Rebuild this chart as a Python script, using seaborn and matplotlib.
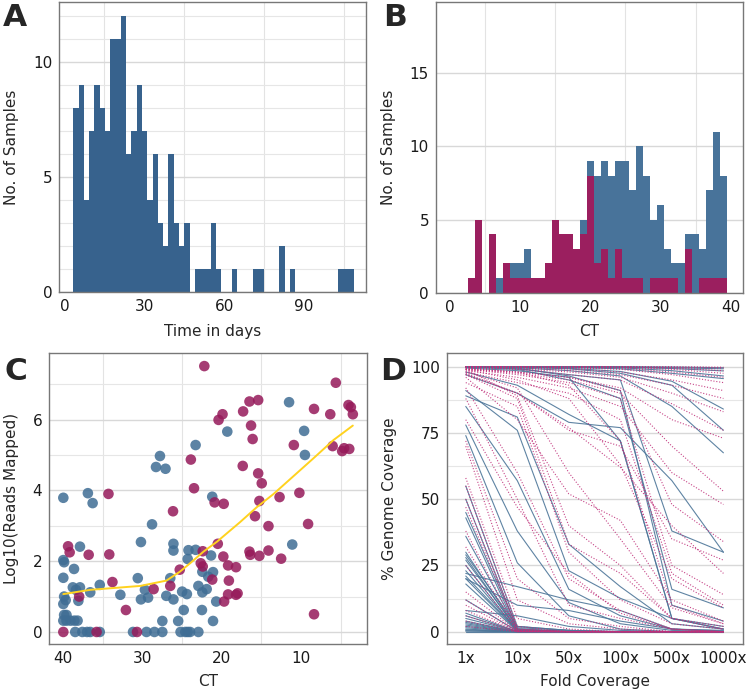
import numpy as np
import pandas as pd
import matplotlib
matplotlib.use("Agg")
import matplotlib.pyplot as plt
import seaborn as sns

# ---------------- data ----------------
# A: days until sequencing, counts per ~2 day bin
days_bin_start = 3.3
days_bin_width = 1.987
days_counts = [8, 9, 4, 7, 9, 8, 7, 11, 11, 12, 6, 7, 9, 7, 4, 6, 3, 2, 6, 3, 2, 3,
               0, 1, 1, 1, 3, 1, 0, 0, 1, 0, 0, 0, 1, 1, 0, 0, 0, 2, 0, 1, 0,
               0, 0, 0, 0, 0, 0, 0, 1, 1, 1]

# B: CT histogram, two groups (stacked)
ct_bin_start = 2.6
ct_bin_width = 0.995
ct_counts_blue = [0, 0, 0, 0, 1, 0, 1, 1, 2, 0, 0, 0, 0, 0, 0, 0, 1, 1, 6, 6, 7, 6, 8, 6,
                  9, 8, 4, 5, 2, 1, 2, 1, 4, 2, 6, 10, 7]
ct_counts_mag = [1, 5, 0, 4, 0, 2, 1, 1, 1, 1, 1, 2, 5, 4, 4, 3, 4, 8, 2, 3, 1, 3, 1, 1,
                 1, 0, 1, 1, 1, 1, 0, 3, 0, 1, 1, 1, 1]

# C: CT vs log10 reads mapped
c_ct_blue = [11.5, 19.3, 9.6, 9.5, 23.3, 27.8, 28.3, 27.1, 40.0, 36.9, 36.3, 21.2, 28.8,
             30.2, 26.1, 26.1, 37.9, 40.0, 39.9, 24.2, 23.3, 21.35, 24.3, 11.1, 22.45, 21.1,
             21.7, 26.5, 30.6, 40.0, 38.65, 35.4, 29.7, 38.8, 37.9, 38.4, 36.6, 39.9, 39.7,
             40.0, 38.1, 32.8, 30.2, 29.3, 27.0, 26.1, 25.0, 24.4, 22.95, 22.45, 21.9, 20.7,
             27.5, 24.8, 22.5, 25.5, 21.1, 39.9, 39.6, 40.0, 39.6, 39.1, 38.6, 38.2,
             38.5, 37.6, 37.0, 36.6, 35.4, 31.2, 29.5, 28.5, 27.5, 25.2, 24.6, 24.3, 24.0, 22.95]
c_log_blue = [6.49, 5.66, 5.68, 5.0, 5.28, 4.97, 4.66, 4.61, 3.79, 3.92, 3.64, 3.82, 3.04,
              2.54, 2.49, 2.30, 2.41, 2.03, 1.97, 2.31, 2.32, 2.16, 2.06, 2.47, 1.70, 1.69,
              1.56, 1.52, 1.52, 1.53, 1.78, 1.33, 1.19, 1.26, 1.26, 1.19, 1.12, 1.00, 0.90,
              0.79, 0.88, 1.05, 0.92, 0.97, 1.02, 0.92, 1.14, 1.07, 1.30, 1.12, 1.21, 0.86,
              0.31, 0.62, 0.62, 0.31, 0.31, 0.48, 0.48, 0.32, 0.32, 0.32, 0.32, 0.32,
              0, 0, 0, 0, 0, 0, 0, 0, 0, 0, 0, 0, 0, 0]
c_ct_mag = [22.2, 5.6, 16.5, 15.4, 8.35, 4.0, 3.7, 3.45, 6.3, 17.3, 19.9, 20.4, 16.3, 16.1,
            10.9, 6.0, 4.55, 3.9, 4.8, 23.9, 17.35, 15.4, 14.95, 23.5, 34.3, 20.9, 19.75,
            15.25, 12.7, 10.2, 26.15, 15.8, 14.1, 9.1, 20.5, 39.4, 39.2, 36.8, 34.2, 22.4,
            19.8, 16.5, 16.4, 15.25, 14.1, 12.5, 22.65, 22.4, 19.2, 18.2, 19.1, 21.2, 25.3,
            26.5, 33.8, 28.6, 38.0, 19.7, 19.2, 18.2, 18.0, 32.1, 8.35, 40.0, 35.8, 30.7]
c_log_mag = [7.51, 7.04, 6.51, 6.55, 6.30, 6.41, 6.35, 6.15, 6.15, 6.23, 6.15, 5.99, 5.83,
             5.45, 5.28, 5.25, 5.19, 5.17, 5.11, 4.87, 4.69, 4.48, 4.20, 4.06, 3.90, 3.66,
             3.62, 3.70, 3.81, 3.93, 3.41, 3.27, 2.99, 3.05, 2.49, 2.42, 2.25, 2.18, 2.19,
             2.28, 2.13, 2.27, 2.18, 2.15, 2.30, 2.07, 1.94, 1.85, 1.88, 1.83, 1.45, 1.48,
             1.76, 1.30, 1.41, 1.21, 1.00, 0.86, 1.06, 1.05, 1.09, 0.62, 0.50, 0, 0, 0]
# C: smoothed trend line
trend_ct = [40.0, 36.6, 30.3, 27.0, 25.3, 24.0, 22.3, 20.6, 17.7, 15.6, 13.5, 11.0, 8.4, 5.9, 3.45]
trend_log = [1.07, 1.19, 1.30, 1.45, 1.70, 1.94, 2.27, 2.55, 3.10, 3.52, 3.89, 4.39, 4.91, 5.42, 5.83]

# D: % genome coverage at each fold-coverage threshold
fold_levels = ["1x", "10x", "50x", "100x", "500x", "1000x"]
cov_blue = [
    [100, 100, 100, 100, 99.9, 99.6], [100, 100, 100, 99.9, 99.6, 99.2],
    [100, 100, 100, 99.8, 99.3, 98.4], [100, 100, 99.9, 99.6, 98.5, 96.5],
    [100, 99.9, 99.7, 99.2, 97.5, 95.5], [100, 99.9, 99.4, 98.2, 94.5, 84],
    [100, 99.8, 99.2, 97.5, 93, 76], [100, 99.6, 98.5, 96.5, 85, 67.5],
    [100, 99.2, 97, 95, 38, 30], [99.8, 99, 95, 88, 16, 9],
    [100, 99.5, 96.5, 91, 10, 4], [99.5, 98.5, 96, 72, 5, 1],
    [98, 93, 82, 72, 5, 1], [97, 90, 79, 77, 57, 30],
    [91, 76, 23, 12.6, 5, 2], [89, 81, 33, 17, 3, 1],
    [85, 57, 16, 6, 1, 0.5], [78, 38, 11, 3, 0.5, 0],
    [74, 26, 6, 1, 0, 0], [55, 2, 0.5, 0, 0, 0],
    [50, 1, 0, 0, 0, 0], [45, 1.5, 0.5, 0, 0, 0],
    [43, 0.5, 0, 0, 0, 0], [36, 1, 0, 0, 0, 0],
    [30, 0.8, 0, 0, 0, 0], [29, 2, 0.5, 0, 0, 0],
    [28, 0.5, 0, 0, 0, 0], [27, 1, 0, 0, 0, 0],
    [25, 0.3, 0, 0, 0, 0], [23, 0.5, 0, 0, 0, 0],
    [22, 17, 12, 8, 1, 0.3], [21, 0.5, 0, 0, 0, 0],
    [20, 10, 8, 4, 1, 0], [20, 0.3, 0, 0, 0, 0],
    [18, 0.2, 0, 0, 0, 0], [12, 0.2, 0, 0, 0, 0],
    [8, 6, 2, 0.5, 0, 0], [7, 0.1, 0, 0, 0, 0],
    [6, 0.1, 0, 0, 0, 0], [5, 0.1, 0, 0, 0, 0],
    [4, 0, 0, 0, 0, 0], [3.5, 0, 0, 0, 0, 0],
    [3, 0, 0, 0, 0, 0], [2.5, 0, 0, 0, 0, 0],
    [2, 0, 0, 0, 0, 0], [1.5, 0, 0, 0, 0, 0],
    [1, 0, 0, 0, 0, 0], [0.7, 0, 0, 0, 0, 0],
    [0.4, 0, 0, 0, 0, 0], [0.2, 0, 0, 0, 0, 0],
    [0, 0, 0, 0, 0, 0],
]
cov_mag = [
    [100, 100, 100, 100, 100, 99.8], [100, 100, 100, 100, 99.7, 99.5],
    [100, 100, 100, 99.9, 99.5, 98.5], [100, 100, 100, 99.8, 99, 97.5],
    [100, 100, 99.8, 99.5, 98, 96], [100, 100, 99.6, 99, 97, 94],
    [100, 99.8, 99.2, 98, 95, 91], [100, 99.6, 98.6, 97, 93, 88],
    [100, 99.2, 98, 96, 90, 83], [99.6, 99, 97, 95, 86, 76],
    [99.2, 98, 96, 92, 80, 73], [99, 97.5, 95, 90, 70, 53],
    [98.5, 96, 92, 85, 60, 48], [99, 98, 96, 91, 48, 34],
    [99, 97, 94, 88, 25, 14], [98, 94, 90, 80, 22, 10],
    [99.5, 98, 93, 72, 10, 3], [97.5, 90, 77, 62, 40, 22],
    [97, 90, 76, 70, 35, 27], [99, 95, 88, 63, 20, 9],
    [98, 92, 60, 35, 9, 3], [99, 89, 40, 25, 5, 1],
    [97, 88, 33, 22, 5, 2], [96, 80, 52, 42, 12, 4],
    [94, 85, 30, 12, 3, 1], [92, 60, 20, 8, 1, 0],
    [88, 50, 10, 5, 1, 0], [80, 47, 22, 7, 1, 0],
    [72, 20, 5, 2, 0, 0], [70, 12, 3, 1, 0, 0],
    [58, 5, 1, 0, 0, 0], [55, 2, 0, 0, 0, 0],
    [50, 1, 0, 0, 0, 0], [47, 1, 0, 0, 0, 0],
    [38, 0.5, 0, 0, 0, 0], [32, 0.5, 0, 0, 0, 0],
    [25, 0.3, 0, 0, 0, 0], [15, 0.2, 0, 0, 0, 0],
    [12, 0.2, 0, 0, 0, 0], [10, 0.1, 0, 0, 0, 0],
    [8, 0.1, 0, 0, 0, 0], [6, 0, 0, 0, 0, 0],
    [4, 0, 0, 0, 0, 0], [2, 0, 0, 0, 0, 0],
]

# ---------------- style ----------------
BLUE_A = "#37628d"
BLUE_B = "#48739a"
MAG = "#9b1f5f"
BLUE_C = "#3f6d94"
MAG_C = "#961a5a"
BLUE_D = "#4d7699"
MAG_D = "#c0307a"
GOLD = "#ffd21f"

sns.set_style("white")
plt.rcParams["font.family"] = ["DejaVu Sans"]

W, H = 750, 695
fig = plt.figure(figsize=(W / 100, H / 100), dpi=100)


def add_ax(left, top, right, bottom):
    return fig.add_axes([left / W, 1 - bottom / H, (right - left) / W, (bottom - top) / H])


def style(ax, xmaj, ymaj, xmin, ymin, ygrid_major=True):
    ax.set_xticks(xmaj)
    ax.set_yticks(ymaj)
    ax.set_xticks(xmin, minor=True)
    ax.set_yticks(ymin, minor=True)
    ax.set_axisbelow(True)
    ax.grid(False)
    ax.grid(which="minor", axis="x", color="#e3e3e3", lw=0.8)
    ax.grid(which="minor", axis="y", color="#e6e6e6", lw=0.8)
    if ygrid_major:
        ax.grid(which="major", axis="y", color="#d8d8d8", lw=1.0)
    ax.tick_params(which="minor", length=0)
    ax.tick_params(which="major", length=3.5, width=0.8, color="#555555",
                   labelsize=11, pad=1.5, labelcolor="#1a1a1a")
    for s in ax.spines.values():
        s.set_color("#777777")
        s.set_linewidth(1.0)


# ---- A ----
axA = add_ax(59.3, 1.7, 366, 292.3)
edges_a = days_bin_start + days_bin_width * np.arange(len(days_counts) + 1)
centers_a = (edges_a[:-1] + edges_a[1:]) / 2
df_a = pd.DataFrame({"days": centers_a, "n": days_counts})
sns.histplot(data=df_a, x="days", weights="n", bins=list(edges_a), color=BLUE_A, alpha=1,
             edgecolor="none", linewidth=0, ax=axA)
axA.set_xlim(-1.95, 113.3)
axA.set_ylim(0, 12.6)
style(axA, [0, 30, 60, 90], [0, 5, 10], [15, 45, 75, 105], list(range(1, 13)))
axA.set_xlabel("Time in days", fontsize=11, labelpad=7)
axA.set_ylabel("No. of Samples", fontsize=11, labelpad=10)

# ---- B ----
axB = add_ax(436, 1.7, 743, 292.7)
edges_b = ct_bin_start + ct_bin_width * np.arange(len(ct_counts_blue) + 1)
centers_b = (edges_b[:-1] + edges_b[1:]) / 2
df_b = pd.DataFrame({
    "ct": np.concatenate([centers_b, centers_b]),
    "n": ct_counts_blue + ct_counts_mag,
    "grp": ["blue"] * len(centers_b) + ["mag"] * len(centers_b),
})
sns.histplot(data=df_b, x="ct", weights="n", hue="grp", hue_order=["blue", "mag"],
             multiple="stack", bins=list(edges_b), palette={"blue": BLUE_B, "mag": MAG},
             alpha=1, edgecolor="none", linewidth=0, legend=False, ax=axB)
axB.set_xlim(-1.9, 41.7)
axB.set_ylim(0, 19.9)
style(axB, [0, 10, 20, 30, 40], [0, 5, 10, 15], [5, 15, 25, 35], [])
axB.set_xlabel("CT", fontsize=11, labelpad=7)
axB.set_ylabel("No. of Samples", fontsize=11, labelpad=10)

# ---- C ----
axC = add_ax(49.3, 353, 366.7, 644)
df_c = pd.DataFrame({
    "ct": c_ct_blue + c_ct_mag,
    "reads": c_log_blue + c_log_mag,
    "grp": ["blue"] * len(c_ct_blue) + ["mag"] * len(c_ct_mag),
})
sns.scatterplot(data=df_c, x="ct", y="reads", hue="grp",
                palette={"blue": BLUE_C, "mag": MAG_C}, s=58, alpha=0.85,
                linewidth=0, legend=False, ax=axC)
sns.lineplot(x=trend_ct, y=trend_log, color=GOLD, lw=1.4, sort=False, ax=axC)
axC.set_xlim(41.77, 1.7)
axC.set_ylim(-0.34, 7.88)
style(axC, [40, 30, 20, 10], [0, 2, 4, 6], [35, 25, 15, 5], [1, 3, 5, 7])
axC.set_xlabel("CT", fontsize=11, labelpad=6)
axC.set_ylabel("Log10(Reads Mapped)", fontsize=11, labelpad=10)

# ---- D ----
axD = add_ax(446.7, 353.3, 743, 644)
rows = []
for grp, data in (("blue", cov_blue), ("mag", cov_mag)):
    for i, vals in enumerate(data):
        for lvl, v in zip(fold_levels, vals):
            rows.append((f"{grp}{i}", grp, lvl, v))
df_d = pd.DataFrame(rows, columns=["sample", "grp", "fold", "cov"])
df_d["fold"] = pd.Categorical(df_d["fold"], categories=fold_levels, ordered=True)
sns.lineplot(data=df_d, x="fold", y="cov", hue="grp", style="grp", units="sample",
             estimator=None, palette={"blue": BLUE_D, "mag": MAG_D},
             dashes={"blue": "", "mag": (1, 1.6)}, lw=0.8, alpha=0.9,
             legend=False, ax=axD)
axD.set_xlim(-0.37, 5.38)
axD.set_ylim(-4.64, 105.05)
style(axD, list(range(6)), [0, 25, 50, 75, 100], [], [12.5, 37.5, 62.5, 87.5])
axD.set_xticklabels(fold_levels)
axD.set_xlabel("Fold Coverage", fontsize=11, labelpad=6)
axD.set_ylabel("% Genome Coverage", fontsize=11, labelpad=10)

# panel letters
for lab, x, y in (("A", 3, 3), ("B", 383, 3), ("C", 4, 357), ("D", 380, 357)):
    fig.text(x / W, 1 - y / H, lab, fontsize=22.5, fontweight="bold", ha="left", va="top")

fig.savefig("out.png", dpi=100)
